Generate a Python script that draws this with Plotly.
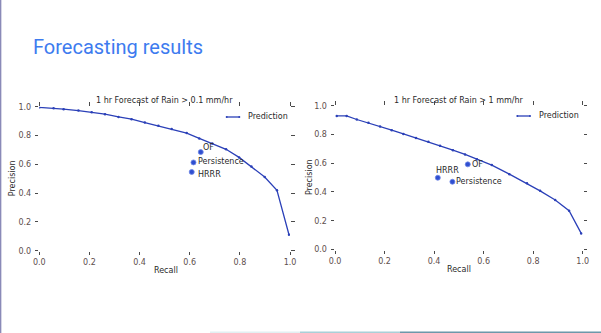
import plotly.graph_objects as go

# Precision-recall curve of the model, > 0.1 mm/hr
recall_01 = [0.0, 0.057, 0.097, 0.156, 0.209, 0.262, 0.316, 0.368, 0.421, 0.475,
             0.528, 0.588, 0.638, 0.69, 0.745, 0.797, 0.846, 0.899, 0.948, 0.996]
precision_01 = [0.995, 0.99, 0.983, 0.973, 0.962, 0.948, 0.929, 0.913, 0.89, 0.868,
                0.845, 0.817, 0.78, 0.745, 0.704, 0.648, 0.585, 0.512, 0.419, 0.111]

# Precision-recall curve of the model, > 1 mm/hr
recall_1 = [0.007, 0.047, 0.088, 0.135, 0.182, 0.229, 0.276, 0.327, 0.377, 0.424,
            0.476, 0.525, 0.573, 0.633, 0.704, 0.775, 0.828, 0.889, 0.945, 0.994]
precision_1 = [0.929, 0.929, 0.904, 0.881, 0.856, 0.83, 0.804, 0.776, 0.749, 0.721,
               0.691, 0.661, 0.628, 0.587, 0.524, 0.46, 0.408, 0.344, 0.27, 0.112]

# Baseline methods (recall, precision)
baselines = ["OF", "Persistence", "HRRR"]
base_recall_01 = [0.644, 0.615, 0.608]
base_precision_01 = [0.685, 0.613, 0.547]
base_recall_1 = [0.536, 0.474, 0.415]
base_precision_1 = [0.592, 0.471, 0.499]

titles = ["1 hr Forecast of Rain > 0.1 mm/hr", "1 hr Forecast of Rain > 1 mm/hr"]
tick_vals = [0.0, 0.2, 0.4, 0.6, 0.8, 1.0]
tick_text = ["0.0", "0.2", "0.4", "0.6", "0.8", "1.0"]

W, H = 601, 333
LINE = "#2b40b8"
DOT = "#2f4fd0"
FONT = "DejaVu Sans"
TICKFONT = dict(family=FONT, size=8, color="#5e4e4c")


def px(x):
    return x / W


def py(y):
    return 1 - y / H


fig = go.Figure()

panels = [
    ("x", "y", recall_01, precision_01, base_recall_01, base_precision_01),
    ("x2", "y2", recall_1, precision_1, base_recall_1, base_precision_1),
]
for xa, ya, r, p, br, bp in panels:
    fig.add_trace(go.Scatter(
        x=r, y=p, xaxis=xa, yaxis=ya, mode="lines+markers",
        line=dict(color=LINE, width=1.3),
        marker=dict(size=2.5, color=LINE), showlegend=False,
    ))
    fig.add_trace(go.Scatter(
        x=br, y=bp, xaxis=xa, yaxis=ya, mode="markers",
        marker=dict(size=5, color=DOT, line=dict(color="#6f86e6", width=0.8)),
        showlegend=False,
    ))

axis_common = dict(
    range=[0, 1], tickvals=tick_vals, ticktext=tick_text, ticks="outside",
    ticklen=3.5, tickwidth=1, tickcolor="#4a4a4a", mirror="ticks",
    showline=False, showgrid=False, zeroline=False, tickfont=TICKFONT,
    automargin=False,
)
x_common = dict(axis_common, ticklabelstandoff=0)
y_common = dict(axis_common, ticklabelstandoff=2)

fig.update_layout(
    width=W, height=H, margin=dict(l=0, r=0, t=0, b=0),
    paper_bgcolor="white", plot_bgcolor="white",
    xaxis=dict(domain=[px(39.3), px(290)], anchor="y", **x_common),
    yaxis=dict(domain=[py(250.7), py(106.7)], anchor="x", **y_common),
    xaxis2=dict(domain=[px(335), px(582.7)], anchor="y2", **x_common),
    yaxis2=dict(domain=[py(249.5), py(105.7)], anchor="x2", **y_common),
    showlegend=False,
)

ann = []
txt = dict(family=FONT, size=8, color="#2a2a2a")

# slide heading
ann.append(dict(text="Forecasting results", x=px(31), y=py(47), xref="paper", yref="paper",
                xanchor="left", yanchor="middle", showarrow=False,
                font=dict(family="Roboto", size=20, color="#3d7bef")))

# panel titles
ann.append(dict(text=titles[0], x=px(164.6), y=py(100.5), xref="paper", yref="paper",
                showarrow=False, font=txt, xanchor="center", yanchor="middle"))
ann.append(dict(text=titles[1], x=px(458.8), y=py(100), xref="paper", yref="paper",
                showarrow=False, font=txt, xanchor="center", yanchor="middle"))

# axis titles
for xc, yc in [(165.8, 270.7), (458.7, 269.3)]:
    ann.append(dict(text="Recall", x=px(xc), y=py(yc), xref="paper", yref="paper",
                    showarrow=False, font=txt, xanchor="center", yanchor="middle"))
for xc, yc in [(12.5, 178.7), (309.5, 177.6)]:
    ann.append(dict(text="Precision", x=px(xc), y=py(yc), xref="paper", yref="paper",
                    showarrow=False, font=txt, textangle=-90,
                    xanchor="center", yanchor="middle"))

# baseline labels
offsets_01 = [(1, 5), (3.4, 0.7), (5, -2.4)]
offsets_1 = [(3.3, 0), (2.7, 0.7), (-2.7, 7.7)]
for (xa, ya, br, bp, offs) in [("x", "y", base_recall_01, base_precision_01, offsets_01),
                               ("x2", "y2", base_recall_1, base_precision_1, offsets_1)]:
    for name, rx, ry, (dx, dy) in zip(baselines, br, bp, offs):
        ann.append(dict(text=name, x=rx, y=ry, xref=xa, yref=ya, showarrow=False,
                        xanchor="left", yanchor="middle", xshift=dx - 1, yshift=dy,
                        font=txt))

# legend entries
shapes = []
for x0, x1, yl, xt in [(226.7, 239.3, 117, 245.5), (517.3, 530, 116, 536.5)]:
    shapes.append(dict(type="line", xref="paper", yref="paper",
                       x0=px(x0), x1=px(x1), y0=py(yl), y1=py(yl),
                       line=dict(color=LINE, width=1.3)))
    for xe in (x0, x1):
        shapes.append(dict(type="circle", xref="paper", yref="paper",
                           x0=px(xe - 1), x1=px(xe + 1), y0=py(yl + 1), y1=py(yl - 1),
                           fillcolor=LINE, line=dict(width=0)))
    ann.append(dict(text="Prediction", x=px(xt), y=py(yl), xref="paper", yref="paper",
                    showarrow=False, xanchor="left", yanchor="middle", font=txt))

# slide frame accents
shapes.append(dict(type="line", xref="paper", yref="paper", x0=0.001, x1=0.001, y0=0, y1=1,
                   line=dict(color="#8a8ab8", width=1.5)))
for x0, x1, c in [(210, 300, "#e2f0f2"), (300, 400, "#a9d0d8"), (400, 601, "#6d98aa")]:
    shapes.append(dict(type="line", xref="paper", yref="paper", x0=px(x0), x1=px(x1),
                       y0=py(332.3), y1=py(332.3), line=dict(color=c, width=1.5)))

fig.update_layout(annotations=ann, shapes=shapes)
fig.write_html("out.html")
